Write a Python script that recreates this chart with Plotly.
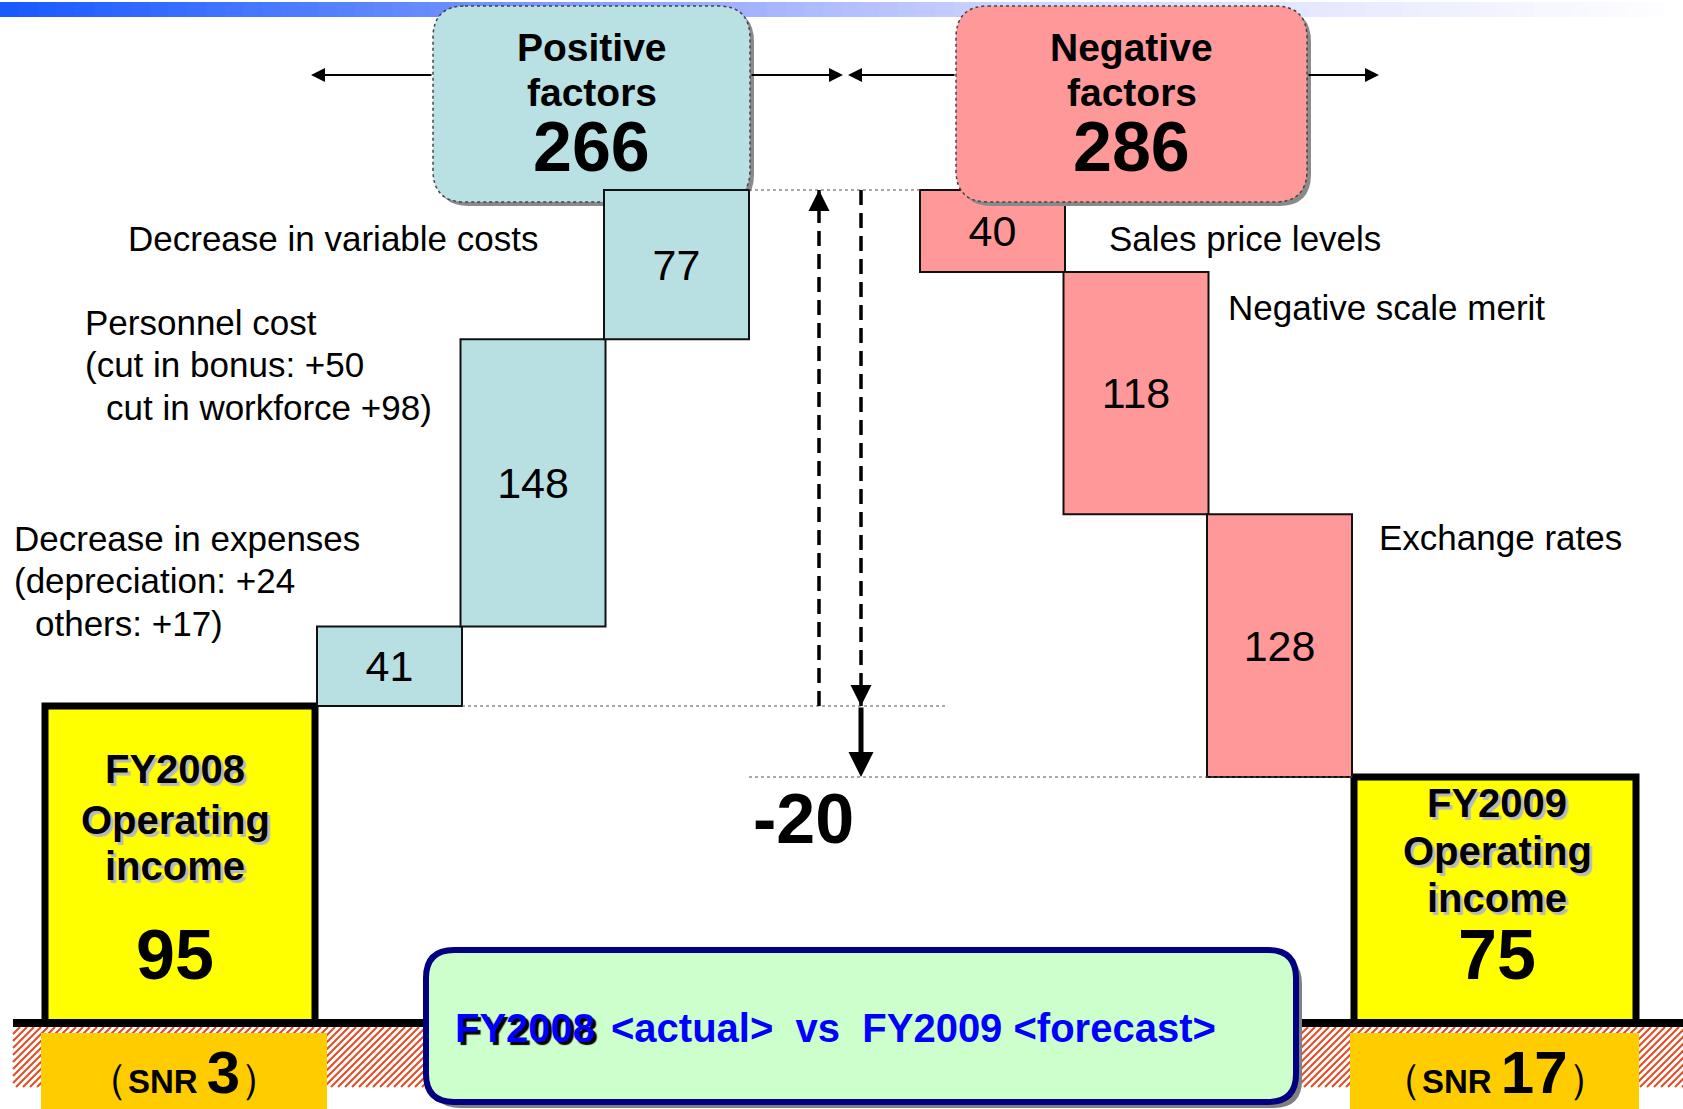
import plotly.graph_objects as go

# ---- values ----
fy_labels = ["FY2008", "FY2009"]
fy_status = ["actual", "forecast"]
operating_income = [95, 75]
snr_income = [3, 17]

positive_names = ["Decrease in expenses", "Personnel cost", "Decrease in variable costs"]
positive_notes = [["(depreciation: +24", "others: +17)"],
                  ["(cut in bonus: +50", "cut in workforce +98)"],
                  []]
positive_values = [41, 148, 77]

negative_names = ["Sales price levels", "Negative scale merit", "Exchange rates"]
negative_values = [40, 118, 128]

# ---- derived waterfall levels ----
start = operating_income[0]
peak = start + sum(positive_values)
end = peak - sum(negative_values)
net_change = end - start

pos_base, lvl = [], start
for v in positive_values:
    pos_base.append(lvl)
    lvl += v
neg_base, lvl = [], peak
for v in negative_values:
    lvl -= v
    neg_base.append(lvl)

# ---- page geometry (pixels) ----
W, H = 1683, 1109
P_START, P_PEAK, P_END = 706, 190, 777
ARROW_Y = 75
SANS = "Liberation Sans, Arial, sans-serif"

BAR_W, STEP = 145, 143.5
pos_x = [317 + BAR_W / 2 + i * STEP for i in range(len(positive_values))]
neg_x = [920 + BAR_W / 2 + i * STEP for i in range(len(negative_values))]
fy_x, fy_w = [180, 1495], [270, 282]


def fx(x):
    return x / W


def fy(y):
    return 1 - y / H


def axis_range(v0, p0, k):
    return [v0 - (H - p0) / k, v0 + p0 / k]


k_inc = (P_END - P_START) / (start - end)
k_pos = (P_START - P_PEAK) / (peak - start)
k_neg = (P_END - P_PEAK) / (peak - end)


def rr_path(x0, y0, x1, y1, r):
    return (f"M {fx(x0 + r)},{fy(y0)} L {fx(x1 - r)},{fy(y0)} Q {fx(x1)},{fy(y0)} {fx(x1)},{fy(y0 + r)} "
            f"L {fx(x1)},{fy(y1 - r)} Q {fx(x1)},{fy(y1)} {fx(x1 - r)},{fy(y1)} "
            f"L {fx(x0 + r)},{fy(y1)} Q {fx(x0)},{fy(y1)} {fx(x0)},{fy(y1 - r)} "
            f"L {fx(x0)},{fy(y0 + r)} Q {fx(x0)},{fy(y0)} {fx(x0 + r)},{fy(y0)} Z")


def prect(x0, y0, x1, y1, color, layer="above"):
    return dict(type="rect", xref="paper", yref="paper", x0=fx(x0), x1=fx(x1), y0=fy(y1), y1=fy(y0),
                fillcolor=color, line=dict(width=0), layer=layer)


def note(x, y, text, size=35, bold=False, anchor="left", color="black", shadow=None):
    f = dict(size=size, family=SANS, color=color)
    if shadow:
        f["shadow"] = shadow
    return dict(x=fx(x), y=fy(y), xref="paper", yref="paper", text=f"<b>{text}</b>" if bold else text,
                showarrow=False, xanchor=anchor, yanchor="middle", font=f)


fig = go.Figure()

fig.add_trace(go.Bar(x=fy_x, y=operating_income, base=0, width=fy_w, yaxis="y",
                     marker=dict(color="#ffff00", line=dict(color="black", width=7)),
                     hoverinfo="skip"))
fig.add_trace(go.Bar(x=pos_x, y=positive_values, base=pos_base, width=BAR_W, yaxis="y2",
                     marker=dict(color="#b8dfe2", line=dict(color="#111", width=2)),
                     text=[str(v) for v in positive_values], textposition="inside",
                     insidetextanchor="middle", textangle=0, constraintext="none",
                     textfont=dict(size=43, color="black", family=SANS), hoverinfo="skip"))
fig.add_trace(go.Bar(x=neg_x, y=negative_values, base=neg_base, width=BAR_W, yaxis="y3",
                     marker=dict(color="#ff9999", line=dict(color="#111", width=2)),
                     text=[str(v) for v in negative_values], textposition="inside",
                     insidetextanchor="middle", textangle=0, constraintext="none",
                     textfont=dict(size=43, color="black", family=SANS), hoverinfo="skip"))

shapes, anns = [], []

# gradient strip at the top
stops = [(0, (25, 90, 255)), (0.45, (165, 180, 255)), (0.6, (205, 212, 255)),
         (0.85, (238, 240, 255)), (1, (255, 255, 255))]
n = 90
for i in range(n):
    t = i / (n - 1)
    for (t0, c0), (t1, c1) in zip(stops, stops[1:]):
        if t0 <= t <= t1:
            u = (t - t0) / (t1 - t0)
            c = tuple(int(a + (b - a) * u) for a, b in zip(c0, c1))
            break
    shapes.append(prect(i * W / n, 2, (i + 1) * W / n + 1, 17, f"rgb{c}", layer="below"))

# header boxes
hdr = [(433, 750, "#b9e0e3", "Positive", sum(positive_values), "below"),
       (956, 1307, "#ff9999", "Negative", sum(negative_values), "above")]
for x0, x1, col, word, total, layer in hdr:
    shapes.append(dict(type="path", xref="paper", yref="paper", path=rr_path(x0 + 4, 10, x1 + 4, 206, 32),
                       fillcolor="#8a8a8a", line=dict(width=0), layer=layer))
    shapes.append(dict(type="path", xref="paper", yref="paper", path=rr_path(x0, 6, x1, 202, 32),
                       fillcolor=col, line=dict(color="#444", width=1.5, dash="dot"), layer=layer))
    cx = (x0 + x1) / 2
    anns.append(note(cx, 48, word, 39, True, "center"))
    anns.append(note(cx, 93, "factors", 39, True, "center"))
    anns.append(note(cx, 147, str(total), 70, True, "center"))

# horizontal arrows around the headers
for head, tail in [(311, 433), (843, 750), (848, 956), (1379, 1307)]:
    anns.append(dict(x=fx(head), y=fy(ARROW_Y), xref="paper", yref="paper", text="", showarrow=True,
                     ax=tail - head, ay=0, arrowhead=2, arrowsize=1.4, arrowwidth=2, arrowcolor="black"))

# dotted guide lines
guides = [(pos_x[-1] + BAR_W / 2, neg_x[0] - BAR_W / 2, peak, "y2"),
          (pos_x[0] + BAR_W / 2, 945, start, "y"),
          (pos_x[-1] + BAR_W / 2, fy_x[1] - fy_w[1] / 2, end, "y")]
for x0, x1, lv, yr in guides:
    shapes.append(dict(type="line", xref="x", yref=yr, x0=x0, x1=x1, y0=lv, y1=lv,
                       line=dict(color="#555", width=1.2, dash="dot")))

# dashed totals arrows
shapes.append(dict(type="line", xref="x", yref="y2", x0=819, x1=819, y0=start, y1=peak,
                   line=dict(color="black", width=3.5, dash="15px,8px")))
shapes.append(dict(type="line", xref="x", yref="y2", x0=861, x1=861, y0=peak, y1=start,
                   line=dict(color="black", width=3.5, dash="15px,8px")))
anns.append(dict(x=819, y=peak, xref="x", yref="y2", text="", showarrow=True, ax=0, ay=16,
                 arrowhead=2, arrowsize=1.2, arrowwidth=3.5, arrowcolor="black"))
anns.append(dict(x=861, y=start, xref="x", yref="y2", text="", showarrow=True, ax=0, ay=-16,
                 arrowhead=2, arrowsize=1.2, arrowwidth=3.5, arrowcolor="black"))
anns.append(dict(x=861, y=end, xref="x", yref="y", text="", showarrow=True, ax=861, ay=start,
                 axref="x", ayref="y", arrowhead=2, arrowsize=1, arrowwidth=5, arrowcolor="black"))
anns.append(note(803, 819, f"{net_change}", 70, True, "center"))

# ground: hatched strip, black line, SNR boxes
shapes.append(prect(13, 1027, W, 1087, "white"))
x = 13 - 60
while x < W:
    xa, ya, xb, yb = x, 1087, x + 60, 1027
    if xa < 13:
        ya = 1087 - (13 - xa)
        xa = 13
    shapes.append(dict(type="line", xref="paper", yref="paper", x0=fx(xa), y0=fy(ya), x1=fx(xb), y1=fy(yb),
                       line=dict(color="#e0502a", width=2.2)))
    x += 7
shapes.append(prect(13, 1019, W, 1027, "black"))
snr_box = [(41, 327), (1350, 1639)]
for (x0, x1) in snr_box:
    shapes.append(prect(x0, 1033, x1, H, "#ffcc00"))

# comparison label box
shapes.append(dict(type="path", xref="paper", yref="paper", path=rr_path(432, 956, 1302, 1108, 28),
                   fillcolor="#808080", line=dict(width=0)))
shapes.append(dict(type="path", xref="paper", yref="paper", path=rr_path(426, 950, 1296, 1102, 28),
                   fillcolor="#ccffcc", line=dict(color="#000080", width=6)))
anns.append(note(597, 1028, fy_labels[0], 40, True, "right", "#0000ff", "3px 3px 1px #000"))
anns.append(note(609, 1028, f"&lt;{fy_status[0]}&gt;&nbsp;&nbsp;vs&nbsp;&nbsp;{fy_labels[1]} &lt;{fy_status[1]}&gt;",
                 40, True, "left", "#0000ff"))

# operating income boxes
fy_rows = [[769, 820, 866, 955], [803, 851, 898, 955]]
fy_cx = [175, 1497]
for i in range(2):
    r = fy_rows[i]
    for txt, yy in zip([fy_labels[i], "Operating", "income"], r[:3]):
        anns.append(note(fy_cx[i], yy, txt, 40, True, "center", shadow="3px 3px 1px #b8b8b8"))
    anns.append(note(fy_cx[i], r[3], str(operating_income[i]), 70, True, "center"))
    sx = (snr_box[i][0] + snr_box[i][1]) / 2
    anns.append(note(sx, 1072, f"<span style='font-weight:normal;font-size:42px'>（</span>SNR "
                               f"<span style='font-size:60px'>{snr_income[i]}</span>"
                               f"<span style='font-weight:normal;font-size:42px'>）</span>", 33, True, "center"))

# factor labels
pos_anchor = [(12, 538), (83, 322), (126, 238)]
for name, notes, (lx, ly) in zip(positive_names, positive_notes, pos_anchor):
    lines = [name] + notes
    for j, t in enumerate(lines):
        anns.append(note(lx + (21 if j == 2 else 0), ly + 42.5 * j, t))
neg_anchor = [(1107, 238), (1226, 307), (1377, 537)]
for name, (lx, ly) in zip(negative_names, neg_anchor):
    anns.append(note(lx, ly, name))

hidden = dict(visible=False, fixedrange=True)
fig.update_layout(
    width=W, height=H, margin=dict(l=0, r=0, t=0, b=0),
    paper_bgcolor="white", plot_bgcolor="rgba(0,0,0,0)",
    showlegend=False, barmode="overlay",
    xaxis=dict(range=[0, W], **hidden),
    yaxis=dict(range=axis_range(start, P_START, k_inc), **hidden),
    yaxis2=dict(range=axis_range(start, P_START, k_pos), overlaying="y", **hidden),
    yaxis3=dict(range=axis_range(peak, P_PEAK, k_neg), overlaying="y", **hidden),
    shapes=shapes, annotations=anns,
)

fig.write_html("out.html", config={"displayModeBar": False},
               post_script="document.body.style.margin='0';document.body.style.overflow='hidden';")
